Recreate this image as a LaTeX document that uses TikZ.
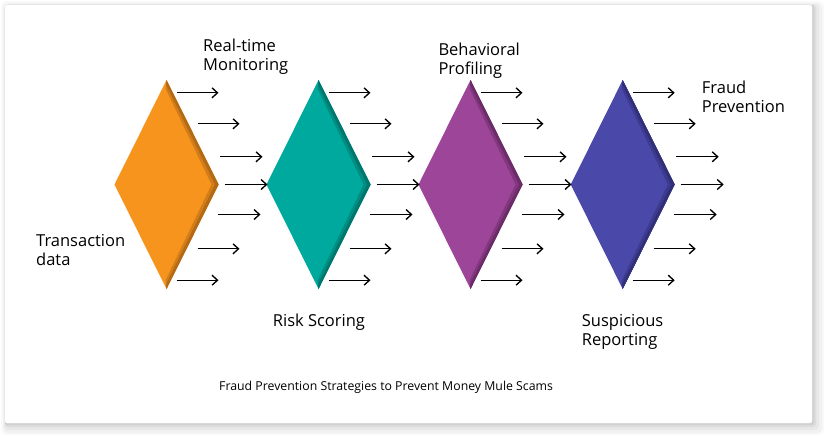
\documentclass[tikz,border=0pt]{standalone}
\usepackage{fontspec}
\setmainfont{Open Sans}
\usetikzlibrary{arrows.meta,calc}
\definecolor{cOrange}{HTML}{F7941E}
\definecolor{cOrangeD}{HTML}{B36A16}
\definecolor{cTeal}{HTML}{00A99D}
\definecolor{cTealD}{HTML}{00776E}
\definecolor{cPurple}{HTML}{9D4599}
\definecolor{cPurpleD}{HTML}{6B2C68}
\definecolor{cBlue}{HTML}{4A49AA}
\definecolor{cBlueD}{HTML}{302F78}
\tikzset{
  flowarrow/.style={draw=black, line width=1.35pt, -{Straight Barb[length=5.5pt,width=10pt,line width=1.35pt]}},
  lbl/.style={anchor=base west, inner sep=0pt, align=left, font=\fontsize{16.5}{18.7}\selectfont, text=black},
  captionlbl/.style={anchor=base west, inner sep=0pt, font=\fontsize{12.3}{14}\selectfont, text=black}
}
\newcommand{\bevdiamond}[3]{%
  \fill[#2] ($(#1)+(0,-104.5)$) -- ($(#1)+(52,0)$) -- ($(#1)+(0,104.5)$) -- ($(#1)+(-52,0)$) -- cycle;
  \fill[#3!55!#2] ($(#1)+(0,-104.5)$) -- ($(#1)+(52,0)$) -- ($(#1)+(0,104.5)$) -- ($(#1)+(-1,96)$) -- ($(#1)+(45,0)$) -- ($(#1)+(-1,-96)$) -- cycle;
  \fill[#3] ($(#1)+(0,-104.5)$) -- ($(#1)+(52,0)$) -- ($(#1)+(0,104.5)$) -- ($(#1)+(-0.5,100)$) -- ($(#1)+(48.5,0)$) -- ($(#1)+(-0.5,-100)$) -- cycle;
}
\newcommand{\arrowfan}[1]{%
  \foreach \dy/\sx/\ex in {-91.7/10/52, -60.7/31/73, -27.7/53/96, 0/58/101, 30/51/94, 64.3/31/73, 95.7/10/52}{
    \draw[flowarrow] ($(#1)+(\sx,\dy)$) -- ($(#1)+(\ex,\dy)$);
  }%
}
\begin{document}
\begin{tikzpicture}[x=1pt,y=-1pt]
\useasboundingbox (0,0) rectangle (826,437);
% card shadow
\fill[black,opacity=0.025,rounded corners=6pt] (1,1) rectangle (824,435);
\fill[black,opacity=0.03,rounded corners=5pt] (3,3) rectangle (822,433);
\fill[black,opacity=0.04,rounded corners=4pt] (4,4) rectangle (819,430);
\fill[black,opacity=0.05,rounded corners=3pt] (5,5) rectangle (816,427);
\fill[black,opacity=0.05,rounded corners=2pt] (5,5) rectangle (814,425);
\fill[white,rounded corners=2pt] (5,5) rectangle (812,423);
% diamond centres
\coordinate (d1) at (166.5,184.5);
\coordinate (d2) at (318.5,184.5);
\coordinate (d3) at (470.5,184.5);
\coordinate (d4) at (622.7,184.5);
\bevdiamond{d1}{cOrange}{cOrangeD}
\bevdiamond{d2}{cTeal}{cTealD}
\bevdiamond{d3}{cPurple}{cPurpleD}
\bevdiamond{d4}{cBlue}{cBlueD}
\arrowfan{d1}
\arrowfan{d2}
\arrowfan{d3}
\arrowfan{d4}
% labels (base anchor = baseline of the last line)
\node[lbl] (ltrans) at (36,265) {Transaction\\data};
\node[lbl] (lrtm) at (203,70) {Real-time\\Monitoring};
\node[lbl] (lrisk) at (272.7,326.7) {Risk Scoring};
\node[lbl] (lbeh) at (438.3,74.4) {Behavioral\\Profiling};
\node[lbl] (lsusp) at (581.7,345.5) {Suspicious\\Reporting};
\node[lbl] (lfraud) at (701.7,112) {Fraud\\Prevention};
\node[captionlbl] (caption) at (219,390.7) {Fraud Prevention Strategies to Prevent Money Mule Scams};
\end{tikzpicture}
\end{document}
